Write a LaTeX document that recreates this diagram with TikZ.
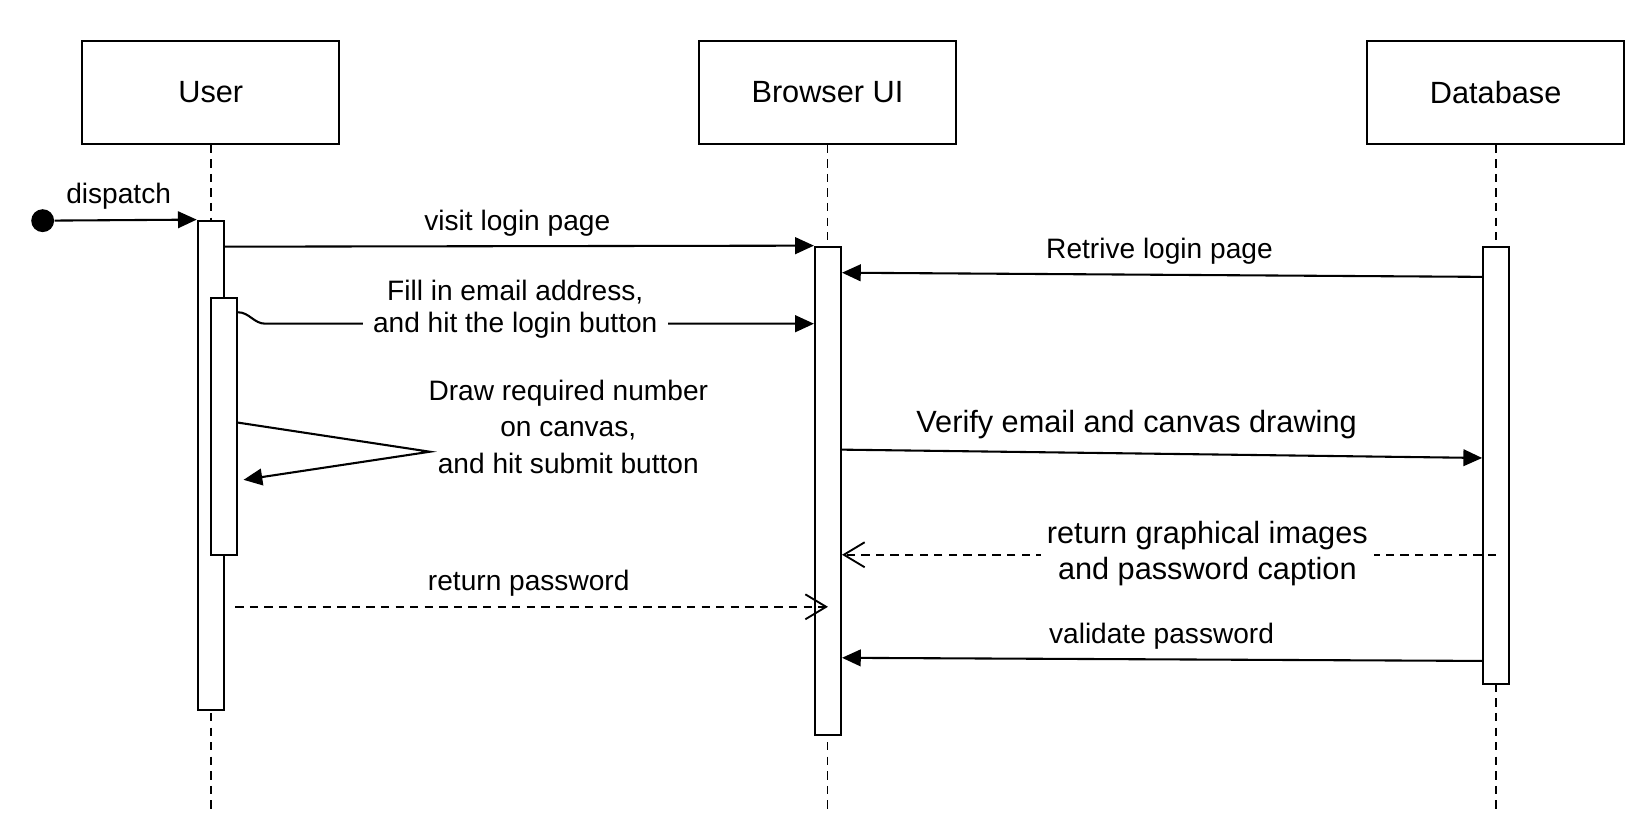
\documentclass[tikz,border=0pt]{standalone}
\usepackage{fontspec}
\setmainfont{Liberation Sans}
\usetikzlibrary{arrows.meta}

\tikzset{
  actor/.style={draw, line width=1pt, minimum width=123.5pt, minimum height=49.5pt, inner sep=0pt, font=\fontsize{14.75}{17}\selectfont},
  actbar/.style={draw, fill=white, line width=1pt, minimum width=12.5pt, inner sep=0pt},
  lifeline/.style={line width=0.8pt, dash pattern=on 4pt off 3pt},
  msg/.style={line width=1pt, -{Triangle[length=9pt,width=8pt]}},
  reply/.style={line width=0.9pt, dash pattern=on 4pt off 3pt, -{Straight Barb[length=10pt,width=12pt]}},
  lbl/.style={inner sep=1pt, align=center, font=\fontsize{13.5}{15.2}\selectfont},
  biglbl/.style={inner sep=1pt, align=center, font=\fontsize{14.75}{17.5}\selectfont}
}

\begin{document}
\begin{tikzpicture}[x=0.5pt,y=-0.5pt]
\useasboundingbox (0,0) rectangle (1568,794);

\node [actor] (user) at (202.5,88.5) {User};
\node [actor] (browser) at (795,88.5) {Browser UI};
\node [actor] (db) at (1437,88.5) {Database};

\foreach \Who in {user, browser, db}{
    \draw[lifeline] (\Who.south) -- ++(0,642); % lifeline
}

\node [actbar, minimum height=235pt] (userAct) at (202.5,447) {};
\node [actbar, minimum height=123.5pt] (userSub) at (215,409.5) {};
\node [actbar, minimum height=234.5pt] (browserAct) at (795.5,471.5) {};
\node [actbar, minimum height=210pt] (dbAct) at (1437.5,447) {};

\node [circle, fill, inner sep=0pt, minimum size=11pt] (start) at (41,212) {};
\draw[msg] (start) -- (userAct.north west);
\node [lbl] (dispatchLbl) at (114,189) {dispatch};

\draw[msg] (userAct.east |- 0,237) -- (browserAct.north west);
\node [lbl] (visitLbl) at (497,214) {visit login page};

\draw[msg] (dbAct.west |- 0,266) -- (browserAct.east |- 0,262);
\node [lbl] (retriveLbl) at (1114,241) {Retrive login page};

\draw[msg] (userSub.east |- 0,300) to[out=0,in=180] (255,311) -- (browserAct.west |- 0,311);
\node [lbl, fill=white, inner xsep=5pt] (fillLbl) at (495,297) {Fill in email address,\\and hit the login button};

\coordinate (selfTurn) at (413,434);
\draw[msg] (userSub.east |- 0,406) -- (selfTurn) -- (234,461);
\node [lbl, font=\fontsize{13.5}{17.6}\selectfont] (drawLbl) at (546,410) {Draw required number\\on canvas,\\and hit submit button};

\draw[msg] (browserAct.east |- 0,432) -- (dbAct.west |- 0,440);
\node [biglbl] (verifyLbl) at (1092,408) {Verify email and canvas drawing};

\draw[reply] (dbAct.center |- 0,533) -- (browserAct.east |- 0,533);
\node [biglbl, fill=white, inner xsep=3pt] (imagesLbl) at (1160,532) {return graphical images\\and password caption};

\coordinate (pwStart) at (226,583);
\draw[reply] (pwStart) -- (browserAct.center |- 0,583);
\node [lbl] (passwordLbl) at (508,560) {return password};

\draw[msg] (dbAct.west |- 0,635) -- (browserAct.east |- 0,632);
\node [lbl] (validateLbl) at (1116,611) {validate password};

\end{tikzpicture}
\end{document}
